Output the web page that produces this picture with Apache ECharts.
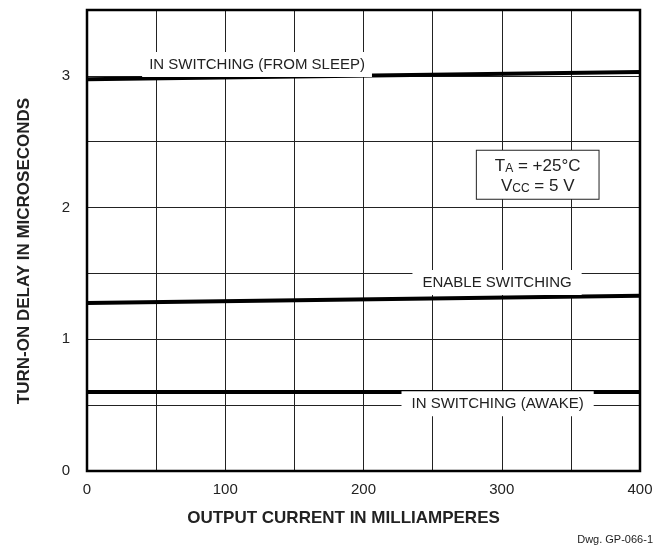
<!DOCTYPE html>
<html>
<head>
<meta charset="utf-8">
<script src="https://cdn.jsdelivr.net/npm/echarts@6/dist/echarts.min.js"></script>
<style>html,body{margin:0;padding:0;background:#fff;}#c{width:667px;height:549px;}</style>
</head>
<body>
<div id="c"></div>
<script>
// Data
const outputCurrent = [0, 400];                 // mA
const sleepDelay = [2.975, 3.03];               // IN SWITCHING (FROM SLEEP), µs
const enableDelay = [1.275, 1.33];              // ENABLE SWITCHING, µs
const awakeDelay = [0.6, 0.6];                  // IN SWITCHING (AWAKE), µs
const xTickLabels = [0, 100, 200, 300, 400];
const yTickLabels = [0, 1, 2, 3];
const seriesNames = ['IN SWITCHING (FROM SLEEP)', 'ENABLE SWITCHING', 'IN SWITCHING (AWAKE)'];

const FONT = 'Liberation Sans, Arial, Helvetica, sans-serif';
const TXT = '#222';

function pairs(ys) { return outputCurrent.map((x, i) => [x, ys[i]]); }

function note(coord, text, padding) {
  return {
    symbol: 'rect', symbolSize: 1, silent: true,
    itemStyle: { color: 'rgba(0,0,0,0)' },
    label: {
      show: true, position: 'inside', formatter: text,
      fontFamily: FONT, fontSize: 15, color: TXT,
      backgroundColor: '#fff', padding: padding
    },
    data: [{ coord: coord }]
  };
}

const lineSeries = (name, ys, mp) => ({
  name: name, type: 'line', data: pairs(ys), symbol: 'none', silent: true,
  lineStyle: { color: '#000', width: 4 }, z: 3, markPoint: mp
});

const chart = echarts.init(document.getElementById('c'), null, { renderer: 'canvas' });
chart.setOption({
  animation: false,
  backgroundColor: '#fff',
  grid: { left: 87, right: 27, top: 10, bottom: 78, show: true, borderColor: '#000', borderWidth: 2.5, z: 5 },
  xAxis: {
    type: 'value', min: 0, max: 400, interval: 50,
    axisLine: { show: false }, axisTick: { show: false },
    splitLine: { show: true, lineStyle: { color: '#222', width: 1 } },
    axisLabel: {
      fontFamily: FONT, fontSize: 15, color: TXT, margin: 11,
      formatter: v => xTickLabels.includes(v) ? String(v) : ''
    }
  },
  yAxis: {
    type: 'value', min: 0, max: 3.5, interval: 0.5,
    axisLine: { show: false }, axisTick: { show: false },
    splitLine: { show: true, lineStyle: { color: '#222', width: 1 } },
    axisLabel: {
      fontFamily: FONT, fontSize: 15, color: TXT, margin: 17,
      formatter: v => yTickLabels.includes(v) ? String(v) : ''
    }
  },
  series: [
    lineSeries(seriesNames[0], sleepDelay, note([123, 3.087], seriesNames[0], [5, 7])),
    lineSeries(seriesNames[1], enableDelay, note([296.6, 1.432], seriesNames[1], [5, 10])),
    lineSeries(seriesNames[2], awakeDelay, note([297, 0.51], seriesNames[2], [5, 10])),
    {
      type: 'line', data: [], silent: true,
      markPoint: {
        symbol: 'rect', symbolSize: 1, silent: true,
        itemStyle: { color: 'rgba(0,0,0,0)' },
        label: {
          show: true, position: 'inside',
          formatter: '{n|T}{s|A}{n| = +25°C}\n{n|V}{s|CC}{n| = 5 V}',
          backgroundColor: '#fff', borderColor: '#222', borderWidth: 1,
          padding: [4, 18], align: 'center',
          rich: {
            n: { fontFamily: FONT, fontSize: 17, color: TXT, lineHeight: 20, verticalAlign: 'bottom' },
            s: { fontFamily: FONT, fontSize: 12, color: TXT, lineHeight: 20, verticalAlign: 'bottom' }
          }
        },
        data: [{ coord: [326, 2.25] }]
      }
    }
  ],
  graphic: [
    { type: 'text', x: 343.5, y: 518, style: { text: 'OUTPUT CURRENT IN MILLIAMPERES', fontFamily: FONT, fontSize: 17, fontWeight: 'bold', fill: TXT, align: 'center', verticalAlign: 'middle' } },
    { type: 'text', x: 24, y: 251, rotation: Math.PI / 2, style: { text: 'TURN-ON DELAY IN MICROSECONDS', fontFamily: FONT, fontSize: 17, fontWeight: 'bold', fill: TXT, align: 'center', verticalAlign: 'middle' } },
    { type: 'text', x: 653, y: 540, style: { text: 'Dwg. GP-066-1', fontFamily: FONT, fontSize: 11, fill: TXT, align: 'right', verticalAlign: 'middle' } }
  ]
});
</script>
</body>
</html>
